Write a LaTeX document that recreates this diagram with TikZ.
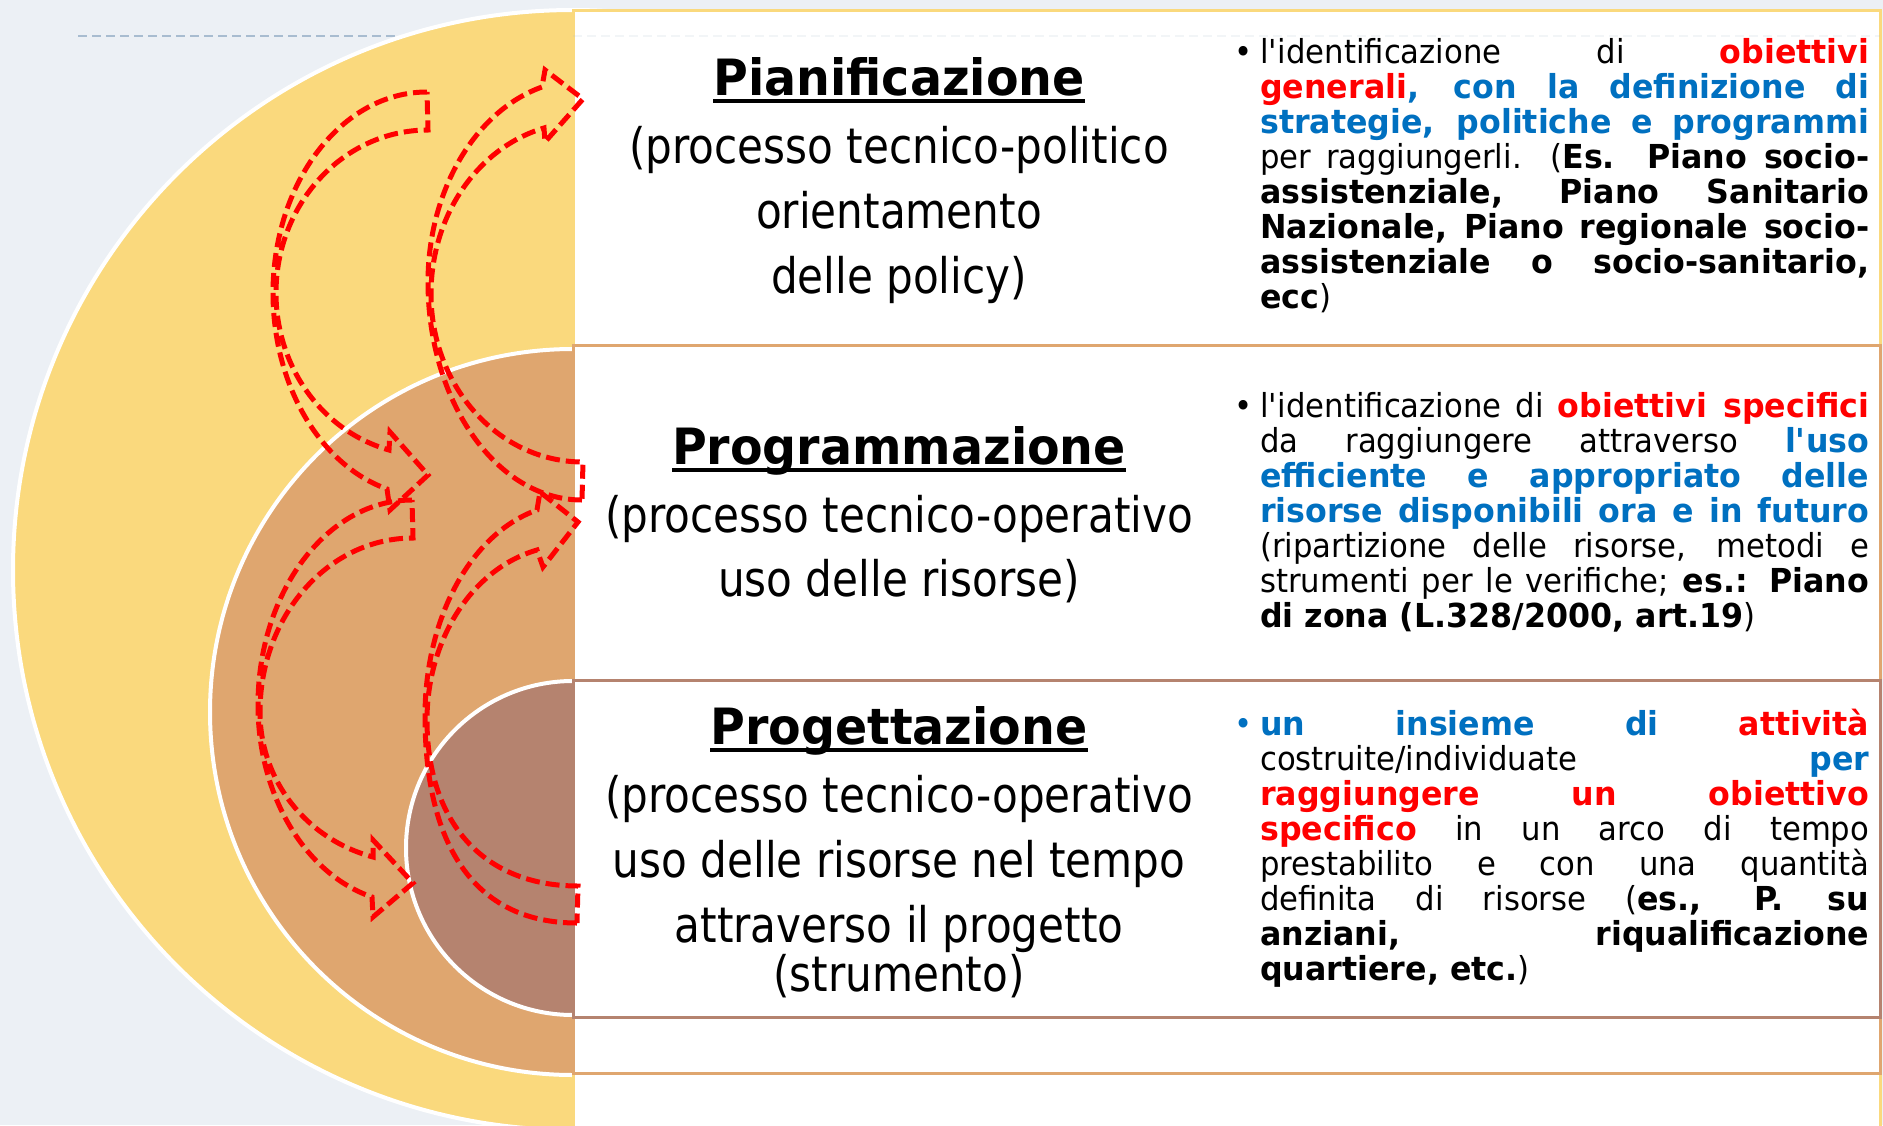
\documentclass[tikz,border=0pt]{standalone}
\usepackage{fontspec}
\setmainfont{DejaVu Sans}[FakeStretch=0.86,BoldFeatures={FakeStretch=0.95}]
\newfontfamily\notefont{DejaVu Sans}[FakeStretch=0.93,BoldFeatures={FakeStretch=0.96}]

\definecolor{slidebg}{HTML}{ECF0F5}
\definecolor{guideblue}{HTML}{A8BCD0}
\definecolor{ringouter}{HTML}{FAD97D}
\definecolor{ringmiddle}{HTML}{DFA66F}
\definecolor{ringinner}{HTML}{B5836F}
\definecolor{arrowred}{HTML}{FF0000}
\definecolor{keyred}{HTML}{FF0000}
\definecolor{keyblue}{HTML}{0070C0}

% thick underline for the headings
\newcommand{\headul}[1]{\setbox0=\hbox{#1}\rlap{\rule[-7.5pt]{\wd0}{3.5pt}}\box0}
% centred, justified and last lines of a text block
\newcommand{\mline}[1]{\hbox to\hsize{\hss#1\hss}}
\newcommand{\jline}[1]{\hbox to\hsize{#1}}
\newcommand{\lastline}[1]{\hbox to\hsize{#1\hfil}}
\newcommand{\leadbullet}[1][black]{\llap{\textcolor{#1}{\textbullet}\hskip8pt}}

\begin{document}
\begin{tikzpicture}[x=1pt, y=-1pt,
    ring/.style={draw=white, line width=4pt},
    panel/.style={fill=white, line width=3pt},
    guide/.style={draw=guideblue, line width=2pt, dash pattern=on 9pt off 5pt},
    bentarrow/.style={draw=arrowred, line width=5pt,
                      dash pattern=on 14pt off 6pt, line join=miter},
    title/.style={anchor=base, inner sep=0pt,
                  font=\fontsize{50}{60}\selectfont\bfseries},
    descr/.style={anchor=base, inner sep=0pt,
                  font=\fontsize{49}{65}\selectfont},
    note/.style={anchor=base west, inner sep=0pt,
                 font=\notefont\fontsize{33}{35.1}\selectfont}
  ]
  \useasboundingbox (0,0) rectangle (1883,1125);
  \clip (0,0) rectangle (1883,1125);
  \fill[slidebg] (0,0) rectangle (1883,1125);
  \draw[guide] (78,36) -- (600,36);

  % nested half discs
  \filldraw[ring, fill=ringouter] (573,570) circle[radius=560];
  \filldraw[ring, fill=ringmiddle] (573,712) circle[radius=363];
  \filldraw[ring, fill=ringinner] (573,848) circle[radius=167];

  % panels
  \draw[panel, draw=ringouter] (573,10) rectangle (1880,1140);
  \draw[panel, draw=ringmiddle] (573,345) rectangle (1880,1073);
  \draw[panel, draw=ringinner] (573,680) rectangle (1880,1017);
  \draw[guide, opacity=0.15] (573,36) -- (1880,36);

  % curved block arrows
  \draw[bentarrow] (427,92) .. controls (342,92) and (273,182) .. (273,293)
    .. controls (273,385) and (320,465) .. (387,489)
    -- (390,510) -- (428,475) -- (390,432) -- (389,450)
    .. controls (322,431) and (276,367) .. (276,293)
    .. controls (276,203) and (344,130) .. (428,130) -- cycle;
  \draw[bentarrow] (582,500) .. controls (497,500) and (428,402) .. (428,282)
    .. controls (428,191) and (475,111) .. (542,87)
    -- (545,70) -- (583,99) -- (545,142) -- (544,128)
    .. controls (477,148) and (431,216) .. (431,294)
    .. controls (431,387) and (499,462) .. (583,462) -- cycle;
  \draw[bentarrow] (412,500) .. controls (327,500) and (258,592) .. (258,705)
    .. controls (258,795) and (305,874) .. (372,897)
    -- (373,917) -- (413,883) -- (373,840) -- (373,857)
    .. controls (306,839) and (260,780) .. (260,712)
    .. controls (260,616) and (328,538) .. (413,538) -- cycle;
  \draw[bentarrow] (577,923) .. controls (478,923) and (425,850) .. (425,716)
    .. controls (425,619) and (470,534) .. (537,510)
    -- (540,492) -- (578,522) -- (543,567) -- (537,550)
    .. controls (471,569) and (427,641) .. (427,720)
    .. controls (427,823) and (484,886) .. (578,886) -- cycle;

  % left column
  \node[title] (plan title) at (899,95) {\headul{Pianificazione}};
  \node[descr] (plan text) at (899,163.5) {\vtop{\hsize=800pt
      \baselineskip=65pt\lineskiplimit=-\maxdimen
      \mline{(processo tecnico-politico}
      \mline{orientamento}
      \mline{delle policy)}}};
  \node[title] (prog title) at (899,464) {\headul{Programmazione}};
  \node[descr] (prog text) at (899,532.5) {\vtop{\hsize=800pt
      \baselineskip=64pt\lineskiplimit=-\maxdimen
      \mline{(processo tecnico-operativo}
      \mline{uso delle risorse)}}};
  \node[title] (proj title) at (899,744) {\headul{Progettazione}};
  \node[descr] (proj text) at (899,812.5) {\vtop{\hsize=800pt
      \baselineskip=65pt\lineskiplimit=-\maxdimen
      \mline{(processo tecnico-operativo}
      \mline{uso delle risorse nel tempo}
      \mline{attraverso il progetto}
      \vskip-16.5pt
      \mline{(strumento)}}};

  % right column
  \node[note] (plan note) at (1260,63) {\vtop{\hsize=609pt
      \baselineskip=35.1pt\lineskiplimit=-\maxdimen
      \jline{\leadbullet l\textquotesingle identificazione di \textcolor{keyred}{\bfseries obiettivi}}
      \jline{\textcolor{keyred}{\bfseries generali}\textcolor{keyblue}{\bfseries, con la definizione di}}
      \jline{\textcolor{keyblue}{\bfseries strategie, politiche e programmi}}
      \jline{per raggiungerli. ({\bfseries Es. Piano socio-}}
      \jline{{\bfseries assistenziale, Piano Sanitario}}
      \jline{{\bfseries Nazionale, Piano regionale socio-}}
      \jline{{\bfseries assistenziale o socio-sanitario,}}
      \lastline{{\bfseries ecc})}}};
  \node[note] (prog note) at (1260,417) {\vtop{\hsize=609pt
      \baselineskip=35.1pt\lineskiplimit=-\maxdimen
      \jline{\leadbullet l\textquotesingle identificazione di \textcolor{keyred}{\bfseries obiettivi specifici}}
      \jline{da raggiungere attraverso \textcolor{keyblue}{\bfseries l\textquotesingle uso}}
      \jline{\textcolor{keyblue}{\bfseries efficiente e appropriato delle}}
      \jline{\textcolor{keyblue}{\bfseries risorse disponibili ora e in futuro}}
      \jline{(ripartizione delle risorse, metodi e}
      \jline{strumenti per le verifiche; {\bfseries es.: Piano}}
      \lastline{{\bfseries di zona (L.328/2000, art.19})}}};
  \node[note] (proj note) at (1260,735) {\vtop{\hsize=609pt
      \baselineskip=35.1pt\lineskiplimit=-\maxdimen
      \jline{\leadbullet[keyblue]\textcolor{keyblue}{\bfseries un insieme di} \textcolor{keyred}{\bfseries attività}}
      \jline{costruite/individuate \textcolor{keyblue}{\bfseries per}}
      \jline{\textcolor{keyred}{\bfseries raggiungere un obiettivo}}
      \jline{\textcolor{keyred}{\bfseries specifico} in un arco di tempo}
      \jline{prestabilito e con una quantità}
      \jline{definita di risorse ({\bfseries es., P. su}}
      \jline{{\bfseries anziani, riqualificazione}}
      \lastline{{\bfseries quartiere, etc.})}}};
\end{tikzpicture}
\end{document}
